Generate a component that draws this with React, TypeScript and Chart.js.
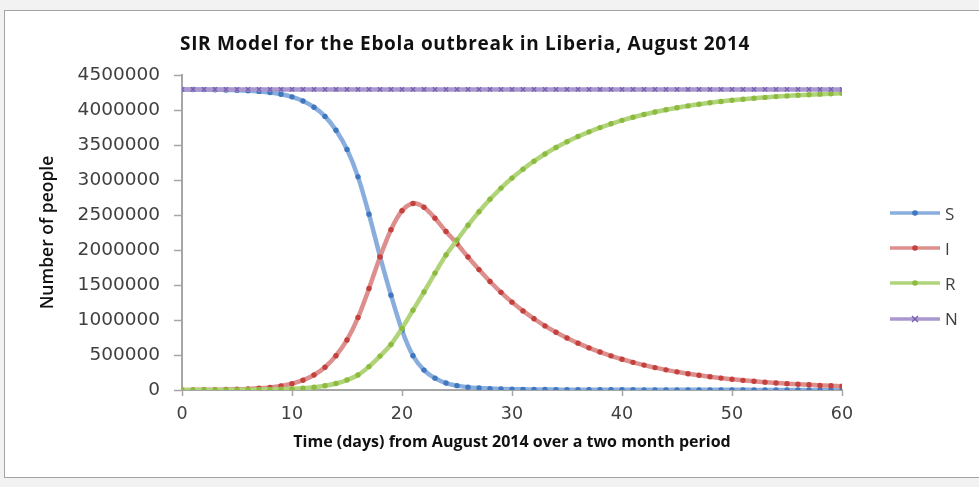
import React, { useEffect, useRef } from "react";
import { Chart, registerables } from "chart.js";

Chart.register(...registerables);

const days = [
  0, 1, 2, 3, 4, 5, 6, 7, 8, 9, 10, 11, 12, 13, 14, 15, 16, 17, 18, 19, 20,
  21, 22, 23, 24, 25, 26, 27, 28, 29, 30, 31, 32, 33, 34, 35, 36, 37, 38, 39, 40,
  41, 42, 43, 44, 45, 46, 47, 48, 49, 50, 51, 52, 53, 54, 55, 56, 57, 58, 59, 60,
];

const susceptible = [
  4292900, 4292200, 4291100, 4289300, 4286600, 4282300, 4275800, 4265700, 4250300, 4225600,
  4187800, 4128800, 4039800, 3908300, 3710800, 3437000, 3045000, 2510000, 1910000, 1354000,
  854000, 489000, 284000, 169000, 99000, 62000, 41000, 28000, 20000, 15000,
  11500, 9200, 7500, 6300, 5400, 4700, 4200, 3800, 3400, 3100,
  2900, 2700, 2500, 2400, 2300, 2200, 2100, 2000, 1950, 1900,
  1850, 1800, 1780, 1760, 1740, 1720, 1700, 1690, 1680, 1670, 1660,
];

const infected = [
  1100, 1700, 2600, 4100, 6400, 10000, 15500, 24000, 37000, 58000,
  90000, 140000, 215000, 325000, 490000, 715000, 1035000, 1450000, 1900000, 2290000,
  2560000, 2665000, 2610000, 2455000, 2265000, 2090000, 1900000, 1720000, 1550000, 1395000,
  1255000, 1130000, 1018000, 916000, 825000, 743000, 669000, 602000, 542000, 488000,
  439000, 395000, 356000, 320000, 288000, 259000, 233000, 210000, 189000, 170000,
  153000, 138000, 124000, 112000, 101000, 91000, 82000, 74000, 66000, 60000, 54000,
];

const recovered = [
  0, 100, 300, 600, 1000, 1700, 2700, 4300, 6700, 10400,
  16200, 25200, 39200, 60700, 93200, 142000, 214000, 334000, 484000, 650000,
  880000, 1140000, 1400000, 1670000, 1930000, 2142000, 2353000, 2546000, 2724000, 2884000,
  3027500, 3154800, 3268500, 3371700, 3463600, 3546300, 3620800, 3688200, 3748600, 3802900,
  3852100, 3896300, 3935500, 3971600, 4003700, 4032800, 4058900, 4082000, 4103050, 4122100,
  4139150, 4154200, 4168220, 4180240, 4191260, 4201280, 4210300, 4218310, 4226320, 4232330, 4238340,
];

const population = [
  4294000, 4294000, 4294000, 4294000, 4294000, 4294000, 4294000, 4294000, 4294000, 4294000,
  4294000, 4294000, 4294000, 4294000, 4294000, 4294000, 4294000, 4294000, 4294000, 4294000,
  4294000, 4294000, 4294000, 4294000, 4294000, 4294000, 4294000, 4294000, 4294000, 4294000,
  4294000, 4294000, 4294000, 4294000, 4294000, 4294000, 4294000, 4294000, 4294000, 4294000,
  4294000, 4294000, 4294000, 4294000, 4294000, 4294000, 4294000, 4294000, 4294000, 4294000,
  4294000, 4294000, 4294000, 4294000, 4294000, 4294000, 4294000, 4294000, 4294000, 4294000, 4294000,
];

const seriesNames = ["S", "I", "R", "N"];
const xTicks = [0, 10, 20, 30, 40, 50, 60];
const yMax = 4500000;
const yStep = 500000;

const titleText = "SIR Model for the Ebola outbreak in Liberia, August 2014";
const xTitle = "Time (days) from August 2014 over a two month period";
const yTitle = "Number of people";

const lineColors = ["#89aedd", "#dd8f8d", "#b1d47a", "#a898cf"];
const pointColors = ["#3f78bf", "#c4413e", "#8cbb3f", "#7a60b2"];

const toPoints = (vals: number[]) => days.map((d, i) => ({ x: d, y: vals[i] }));

function LegendSymbol({ idx }: { idx: number }) {
  const isN = idx === 3;
  return (
    <svg width="52" height="12" style={{ display: "block" }}>
      <line x1="1" y1="6" x2="51" y2="6" stroke={lineColors[idx]} strokeWidth="3.5" />
      {isN ? (
        <g stroke={pointColors[idx]} strokeWidth="1.5">
          <line x1="23" y1="3" x2="29" y2="9" />
          <line x1="29" y1="3" x2="23" y2="9" />
        </g>
      ) : (
        <circle cx="26" cy="6" r="2.8" fill={pointColors[idx]} />
      )}
    </svg>
  );
}

export default function App() {
  const canvasRef = useRef<HTMLCanvasElement | null>(null);

  useEffect(() => {
    const canvas = canvasRef.current;
    if (!canvas) return;
    const seriesVals = [susceptible, infected, recovered, population];
    const chart = new Chart(canvas, {
      type: "line",
      data: {
        datasets: seriesVals.map((vals, i) => ({
          label: seriesNames[i],
          data: toPoints(vals),
          borderColor: lineColors[i],
          backgroundColor: pointColors[i],
          borderWidth: 4.5,
          tension: 0.3,
          pointRadius: i === 3 ? 3 : 2.7,
          pointStyle: i === 3 ? "crossRot" : "circle",
          pointBackgroundColor: pointColors[i],
          pointBorderColor: pointColors[i],
          pointBorderWidth: i === 3 ? 1.4 : 0,
          order: 4 - i,
          fill: false,
        })),
      },
      options: {
        responsive: false,
        animation: false,
        events: [],
        layout: { padding: { left: 30, right: 137, top: 75, bottom: 30 } },
        plugins: {
          legend: { display: false },
          title: { display: false },
          tooltip: { enabled: false },
        },
        scales: {
          x: {
            type: "linear",
            min: 0,
            max: 60,
            afterFit: (scale: any) => {
              scale.height = 67;
            },
            afterBuildTicks: (scale: any) => {
              scale.ticks = xTicks.map((v) => ({ value: v }));
            },
            ticks: {
              padding: 8,
              color: "#404040",
              font: { family: "DejaVu Sans", size: 17.5 },
              callback: (v: any) => String(v),
              maxRotation: 0,
            },
            grid: {
              display: true,
              drawOnChartArea: false,
              drawTicks: true,
              tickLength: 6,
              tickColor: "#a6a6a6",
              tickWidth: 1.5,
            },
            border: { display: true, color: "#a6a6a6", width: 2 },
            title: {
              display: true,
              text: xTitle,
              color: "#111",
              font: { family: "Open Sans", size: 16, weight: "bold" },
              padding: { top: 0, bottom: 5 },
            },
          },
          y: {
            type: "linear",
            min: 0,
            max: yMax,
            afterFit: (scale: any) => {
              scale.width = 152;
            },
            ticks: {
              stepSize: yStep,
              padding: 14,
              color: "#404040",
              font: { family: "DejaVu Sans", size: 18.5 },
              callback: (v: any) => String(v),
            },
            grid: {
              display: true,
              drawOnChartArea: false,
              drawTicks: true,
              tickLength: 8,
              tickColor: "#a6a6a6",
              tickWidth: 1.5,
            },
            border: { display: true, color: "#a6a6a6", width: 2 },
            title: {
              display: true,
              text: yTitle,
              color: "#111",
              font: { family: "Open Sans", size: 17.5, weight: "600" },
              padding: { top: 8, bottom: 0 },
            },
          },
        },
      },
    });
    return () => chart.destroy();
  }, []);

  return (
    <div
      style={{
        position: "fixed",
        left: 0,
        top: 0,
        width: 979,
        height: 487,
        background: "#f2f2f2",
        overflow: "hidden",
      }}
    >
      <div
        style={{
          position: "absolute",
          left: 4,
          top: 10,
          width: 990,
          height: 466,
          background: "#ffffff",
          border: "1px solid #a3a3a3",
        }}
      />
      <canvas
        ref={canvasRef}
        width={979}
        height={487}
        style={{ position: "absolute", left: 0, top: 0, width: 979, height: 487 }}
      />
      <div
        style={{
          position: "absolute",
          left: 0,
          top: 31,
          width: 930,
          textAlign: "center",
          fontFamily: "'Open Sans', sans-serif",
          fontWeight: 700,
          fontSize: 19,
          letterSpacing: "0.7px",
          lineHeight: "24px",
          color: "#111",
          whiteSpace: "nowrap",
        }}
      >
        {titleText}
      </div>
      {seriesNames.map((name, i) => (
        <div
          key={name}
          style={{
            position: "absolute",
            left: 889,
            top: 201 + i * 35.2,
            height: 24,
            display: "flex",
            alignItems: "center",
            fontFamily: "'Open Sans', sans-serif",
            fontSize: 17,
            color: "#404040",
          }}
        >
          <LegendSymbol idx={i} />
          <span style={{ marginLeft: 4 }}>{name}</span>
        </div>
      ))}
    </div>
  );
}
